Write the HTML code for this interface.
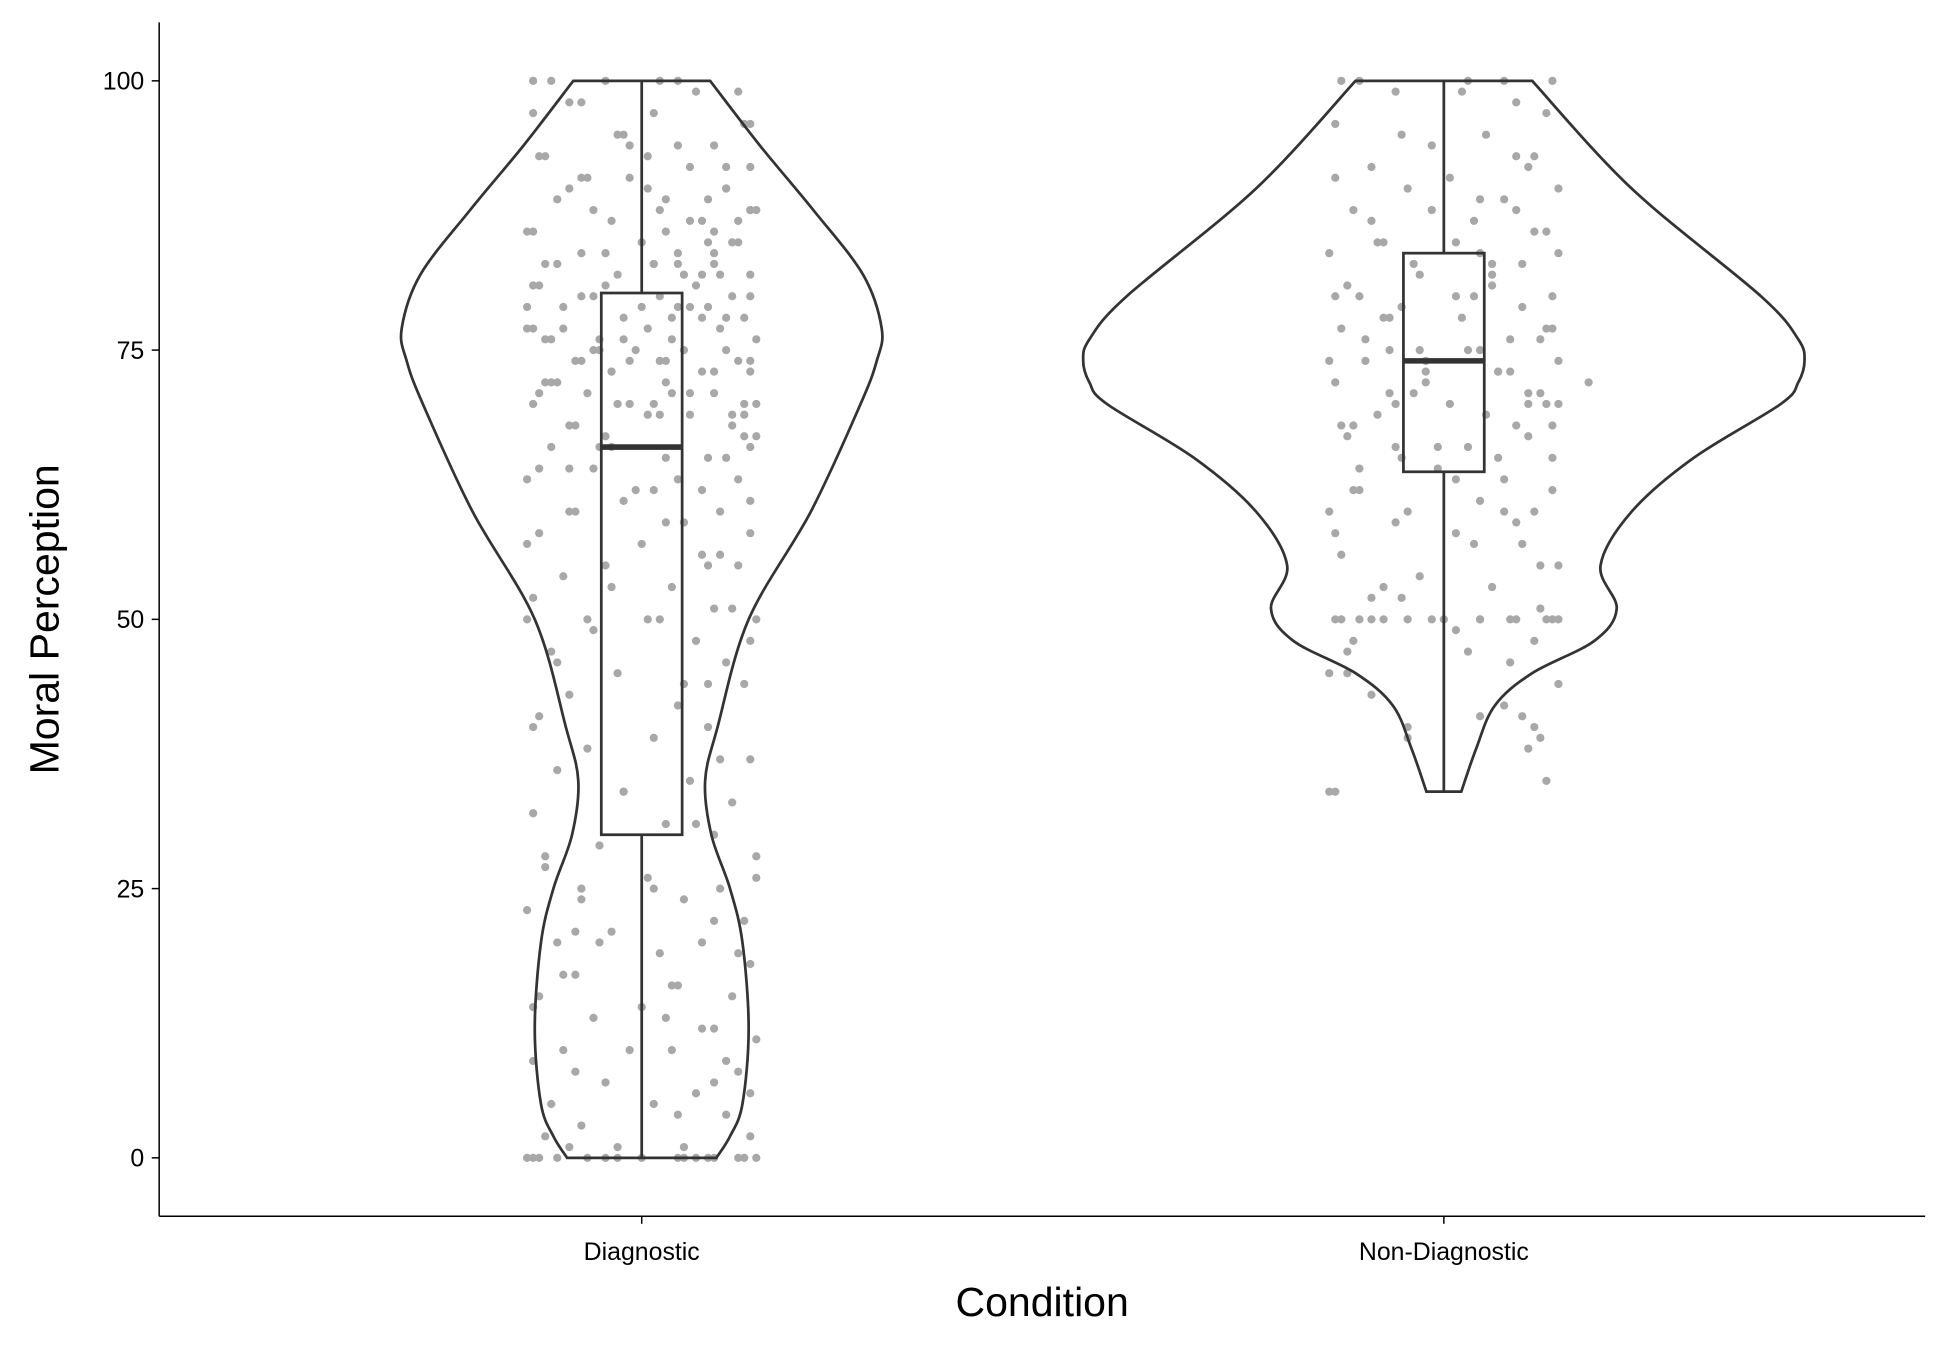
<!DOCTYPE html>
<html><head><meta charset="utf-8"><style>
html,body{margin:0;padding:0;background:#fff}
svg{display:block}
text{font-family:"Liberation Sans",sans-serif}
</style></head><body>
<svg id="chart" width="1950" height="1350" viewBox="0 0 1568 1085.5" preserveAspectRatio="none" xmlns="http://www.w3.org/2000/svg">
<g id="plot"></g>
<line x1="128" y1="18" x2="128" y2="978" stroke="#000" stroke-width="1.2"/>
<line x1="128" y1="978" x2="1548" y2="978" stroke="#000" stroke-width="1.2"/>
<g id="yticks"></g>
<g id="xticks"></g>
<text transform="translate(47,498) rotate(-90)" text-anchor="middle" font-size="33" fill="#000">Moral Perception</text>
<text x="838" y="1058" text-anchor="middle" font-size="33" fill="#000">Condition</text>
</svg>
<script>
const categories = ["Diagnostic", "Non-Diagnostic"];
const yTicks = [0, 25, 50, 75, 100];
const violinLevels0 = [0,2,5,12,20,25,30,35,40,50,60,70,74,77,82,88,94,100];
const violinWidths0 = [60,71,81,86,81,71,56,51,61,86,136,176,189,193,178,138,95,55];
const violinLevels1 = [34,38,42,45,48,51,55,60,65,70,72,74,76,80,90,100];
const violinWidths1 = [14,26,41,71,121,139,126,151,201,271,285,290,285,255,151,71];
const boxStats0 = [0, 30, 66, 80.3, 100];
const boxStats1 = [34, 63.7, 74, 84, 100];
const pointsVal0 = [100,100,99,98,97,96,95,94,93,92,91,90,90,89,88,88,87,86,85,85,84,84,83,83,82,82,81,81,80,80,80,79,79,78,78,78,77,77,77,76,76,76,75,75,75,74,74,74,73,73,72,72,71,71,70,70,70,69,69,68,68,67,66,66,65,65,64,63,63,62,61,60,60,59,58,58,57,56,55,55,54,53,52,51,50,50,50,49,48,47,46,45,44,43,42,41,40,39,38,37,36,35,34,33,32,31,30,29,28,27,26,25,25,24,23,22,21,20,20,19,18,17,16,15,15,14,13,12,11,10,10,9,8,7,6,5,5,4,3,2,1,1,0,0,0,0,0,0,0,0,0,0,86,83,79,73,69,64,90,94,82,76,71,67,75,88,92,97,56,44,21,13,7,
100,100,100,99,98,96,95,94,93,92,91,90,89,89,88,87,87,86,86,85,84,83,83,82,82,81,80,79,79,78,77,76,75,74,74,73,72,71,70,70,69,68,67,66,65,64,63,62,62,61,60,59,57,55,53,51,50,50,48,46,44,40,37,34,31,28,26,25,24,22,20,19,17,16,14,12,10,9,8,6,4,2,1,0,0,0,0,0,0,80,78,76,74,72,85,88,91,93,71,69,66,83,79,77,81,84,87,74,70,73];
const pointsJit0 = [-.9,.3,.8,-.5,.1,.9,-.2,.6,-.8,.4,-.1,.7,-.6,.2,.95,-.4,.5,-.9,0,.8,-.3,.6,-.7,.3,.9,-.2,.45,-.85,.15,.75,-.5,.55,-.95,.25,-.15,.85,-.65,.05,.65,-.35,.95,-.75,.35,-.05,.7,-.55,.15,.9,-.25,.5,-.8,.2,.6,-.45,.85,-.1,-.9,.4,.05,-.6,.75,-.3,.9,-.75,.2,.55,-.4,.8,-.95,.1,-.15,.65,-.55,.35,.9,-.85,.0,.5,-.3,.8,-.65,.25,-.9,.6,-.95,.15,.95,-.4,.45,-.75,.7,-.2,.85,-.6,.3,-.85,.55,.1,-.45,.9,-.7,.4,-.15,.75,-.9,.2,.6,-.35,.95,-.8,.05,.65,-.5,.35,-.95,.85,-.25,.5,-.7,.15,.9,-.55,.3,.75,-.85,.0,-.4,.6,.95,-.65,.25,-.9,.8,-.3,.45,-.75,.1,.7,-.5,.9,-.2,.35,-.95,-.7,-.45,-.2,.0,.3,.55,.8,.95,-.85,.6,.1,.4,-.25,.85,-.6,.7,-.1,.5,-.8,.25,.95,-.35,.15,.9,-.9,.65,.55,-.55,.2,
.6,-.3,-.75,.15,.45,-.6,.85,-.15,.3,-.85,.7,-.45,.05,.55,-.7,.9,-.25,.4,-.95,.2,.75,-.5,.1,-.8,.65,.35,-.3,.9,-.65,.0,.5,-.9,.25,-.4,.8,-.1,.6,-.75,.4,.95,-.2,.15,-.55,.85,-.35,.7,-.85,.3,-.05,.5,.9,-.6,.2,-.95,.55,-.25,.75,-.45,.05,.9,-.7,.35,-.9,.65,-.15,.45,-.8,.95,.1,-.5,.6,-.35,.8,-.65,.25,-.9,.5,-.1,.7,-.55,.9,.3,-.8,-.6,-.3,.35,.6,.85,-.9,.45,-.4,.7,-.15,.2,-.7,.55,.9,-.5,.05,-.85,.75,-.25,.6,.3,-.95];
const pointsVal1 = [100,100,100,99,98,96,95,94,93,92,91,90,90,89,88,87,86,85,85,84,83,82,81,80,80,79,78,77,76,76,75,75,74,74,73,73,72,71,71,70,70,69,68,67,66,65,65,64,63,62,61,60,60,59,58,57,56,55,54,53,52,51,50,50,50,50,50,50,50,50,50,49,48,47,46,45,44,43,42,41,40,39,38,35,34,34,72,78,83,68,62,88,74,80,70,66,
100,100,99,97,95,93,91,89,88,86,85,84,83,82,81,80,79,78,77,76,75,74,73,72,71,70,69,68,67,66,65,64,62,60,59,58,57,55,53,50,50,50,50,50,50,48,47,45,41,40,39,92,87,84,80,77,75,73,71,70,68,63,60,52];
const pointsJit1 = [-.85,.2,.9,-.4,.6,-.9,.35,-.1,.75,-.6,.05,.95,-.3,.5,-.75,.25,.85,-.5,.1,-.95,.65,-.2,.4,-.7,.9,-.35,.15,-.85,.55,.8,-.45,.3,-.65,.95,-.15,.45,-.9,.7,-.25,.05,.85,-.55,.6,-.8,.2,-.35,.9,-.05,.5,-.7,.3,-.95,.75,-.4,.1,.65,-.85,.95,-.2,.4,-.6,.8,-.9,-.7,-.3,.0,.3,.6,.85,.95,-.5,.1,.75,-.8,.55,-.95,.95,-.6,.5,.3,-.3,.8,.7,.85,-.9,-.95,1.2,-.5,.4,.9,-.75,.6,-.15,.25,.7,-.4,
.5,-.7,.15,.85,-.35,.6,-.9,.3,-.1,.75,-.55,.95,-.25,.4,-.8,.1,.65,-.45,.9,-.65,.2,-.95,.55,-.15,.8,-.4,.35,-.85,.7,-.05,.45,-.7,.9,-.3,.6,-.9,.25,.8,-.5,-.85,-.6,-.1,.3,.55,.9,-.75,.2,-.8,.65,.75,-.3,.7,-.6,.3,-.9,.85,-.2,.45,-.45,.95,-.75,.1,.5,-.35];

const NS="http://www.w3.org/2000/svg";
const plot=document.getElementById('plot');
function y(v){return 931-8.66*v;}
const xCenters=[516,1161];
function x(i){return xCenters[i];}
const jitterHalf=97;
function el(tag,attrs,parent){const e=document.createElementNS(NS,tag);for(const k in attrs)e.setAttribute(k,attrs[k]);parent.appendChild(e);return e;}

const yt=document.getElementById('yticks');
yTicks.forEach(v=>{
  const l=el('line',{x1:122,x2:128,y1:y(v),y2:y(v),stroke:'#000','stroke-width':1.2},yt);
  
  
  const t=el('text',{x:116,y:y(v)+7,'text-anchor':'end','font-size':20,fill:'#000'},yt);
  t.textContent=v;
  
  
});
const xt=document.getElementById('xticks');
categories.forEach((c,i)=>{
  const l=el('line',{x1:x(i),x2:x(i),y1:978,y2:984,stroke:'#000','stroke-width':1.2},xt);
  
  
  const t=el('text',{x:x(i),y:1013,'text-anchor':'middle','font-size':20,fill:'#000'},xt);
  t.textContent=c;
  
  
});

function smoothSide(pts){
  let d='';
  for(let i=0;i<pts.length-1;i++){
    const p0=pts[Math.max(0,i-1)],p1=pts[i],p2=pts[i+1],p3=pts[Math.min(pts.length-1,i+2)];
    const c1=[p1[0]+(p2[0]-p0[0])/6,p1[1]+(p2[1]-p0[1])/6];
    const c2=[p2[0]-(p3[0]-p1[0])/6,p2[1]-(p3[1]-p1[1])/6];
    d+=` C${c1[0]},${c1[1]} ${c2[0]},${c2[1]} ${p2[0]},${p2[1]}`;
  }
  return d;
}
function violin(i,levels,widths){
  const cx=x(i);
  const right=levels.map((v,k)=>[cx+widths[k],y(v)]);
  const left=levels.map((v,k)=>[cx-widths[k],y(v)]).reverse();
  let d=`M${cx-widths[0]},${y(levels[0])} L${right[0][0]},${right[0][1]}`+smoothSide(right);
  d+=` L${left[0][0]},${left[0][1]}`+smoothSide(left)+' Z';
  const p=el('path',{d:d,fill:'none',stroke:'#333','stroke-width':2.2},plot);
  
  
}
function box(i,s){
  const cx=x(i),hw=32.5;
  const g=el('g',{},plot);
  
  
  el('line',{x1:cx,x2:cx,y1:y(s[0]),y2:y(s[1]),stroke:'#333','stroke-width':2.2},g);
  el('line',{x1:cx,x2:cx,y1:y(s[3]),y2:y(s[4]),stroke:'#333','stroke-width':2.2},g);
  el('rect',{x:cx-hw,y:y(s[3]),width:2*hw,height:y(s[1])-y(s[3]),fill:'none',stroke:'#333','stroke-width':2.2},g);
  el('line',{x1:cx-hw,x2:cx+hw,y1:y(s[2]),y2:y(s[2]),stroke:'#333','stroke-width':4.5},g);
}
function points(i,vals,jit){
  const g=el('g',{},plot);
  
  
  vals.forEach((v,k)=>{
    const c=el('circle',{cx:x(i)+jit[k%jit.length]*jitterHalf,cy:y(v),r:3.3,fill:'#a8a8a8'},g);
    
    
  });
}
points(0,pointsVal0,pointsJit0);
points(1,pointsVal1,pointsJit1);
violin(0,violinLevels0,violinWidths0);
violin(1,violinLevels1,violinWidths1);
box(0,boxStats0);
box(1,boxStats1);
</script>
</body></html>
